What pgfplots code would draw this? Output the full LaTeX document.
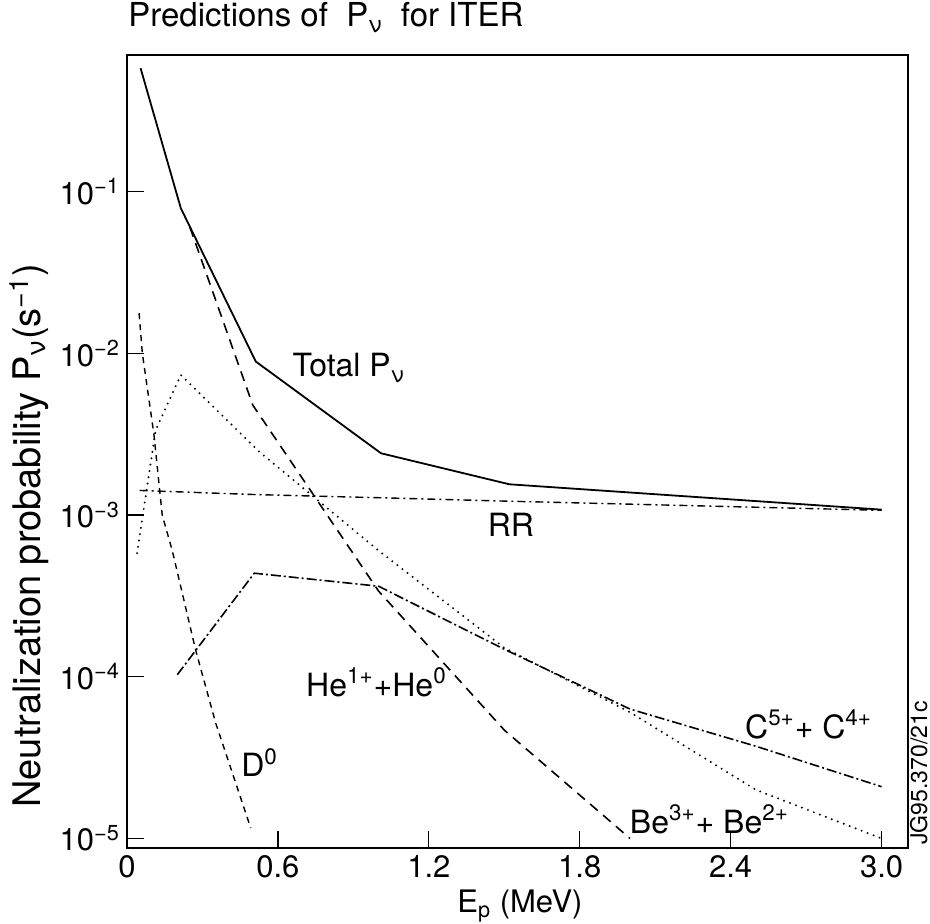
\documentclass[border=0pt]{standalone}
\usepackage{fontspec}
\setmainfont{TeX Gyre Heros}
\usepackage{pgfplots}
\pgfplotsset{compat=1.18}
\begin{document}
\begin{tikzpicture}
\useasboundingbox (-63.5pt,-38pt) rectangle (401.5pt,424pt);
\begin{axis}[
  at={(0pt,0pt)}, anchor=south west,
  scale only axis, width=390.5pt, height=396.5pt,
  xmin=0, xmax=3.105,
  ymode=log, ymin=8.73e-6, ymax=0.70,
  axis line style={line width=0.6pt},
  xtick={0,0.6,1.2,1.8,2.4,3.0},
  xticklabels={0,0.6,1.2,1.8,2.4,3.0},
  ytick={1e-5,1e-4,1e-3,1e-2,1e-1},
  yticklabels={10\textsuperscript{−5},10\textsuperscript{−4},10\textsuperscript{−3},10\textsuperscript{−2},10\textsuperscript{−1}},
  yminorticks=false,
  tick align=inside, xtick pos=bottom, ytick pos=left,
  major tick length=8.5pt,
  tick style={black, line width=0.6pt},
  tick label style={font=\fontsize{15.5}{18}\selectfont},
  clip=false,
]
% Total P_nu
\addplot[black, line width=0.9pt] coordinates {
(0.054,0.58) (0.214,0.079) (0.512,0.0089) (1.01,0.00241) (1.52,0.00155) (3.0,0.00108)};
% RR
\addplot[black, line width=0.7pt, dash pattern=on 4pt off 2pt on 1pt off 2pt] coordinates {
(0.05,1.42e-3) (0.5,1.34e-3) (1.0,1.28e-3) (1.5,1.22e-3) (3.0,1.07e-3)};
% D0
\addplot[black, line width=0.7pt, dash pattern=on 3pt off 2.5pt] coordinates {
(0.048,0.0177) (0.061,0.01) (0.107,3.16e-3) (0.14,1.0e-3) (0.18,6.03e-4) (0.273,1.46e-4) (0.353,5.15e-5) (0.492,1.16e-5)};
% dotted
\addplot[black, line width=1.1pt, line cap=round, dash pattern=on 0pt off 3.2pt] coordinates {
(0.04,5.81e-4) (0.114,3.36e-3) (0.214,7.35e-3) (0.525,2.47e-3) (1.0,6.03e-4) (1.5,1.51e-4) (2.0,6.03e-5) (2.5,2.0e-5) (3.0,1.0e-5)};
% long dashed
\addplot[black, line width=0.8pt, dash pattern=on 5pt off 3.5pt] coordinates {
(0.25,0.0603) (0.5,4.79e-3) (1.0,3.39e-4) (1.5,4.68e-5) (2.0,1.0e-5)};
% C5+ + C4+
\addplot[black, line width=0.8pt, dash pattern=on 5pt off 1.5pt on 1pt off 1.5pt] coordinates {
(0.2,1.03e-4) (0.506,4.37e-4) (1.0,3.63e-4) (1.5,1.48e-4) (2.0,6.31e-5) (2.5,3.72e-5) (3.0,2.09e-5)};
% curve labels
\node[anchor=base west, font=\fontsize{16}{19}\selectfont, inner sep=0pt] at (axis cs:0.657,7.15e-3) {Total P\textsubscript{ν}};
\node[anchor=base west, font=\fontsize{16}{19}\selectfont, inner sep=0pt] at (axis cs:1.433,7.33e-4) {RR};
\node[anchor=base west, font=\fontsize{16}{19}\selectfont, inner sep=0pt] at (axis cs:0.711,7.6e-5) {He\textsuperscript{1+}+He\textsuperscript{0}};
\node[anchor=base west, font=\fontsize{16}{19}\selectfont, inner sep=0pt] at (axis cs:0.453,2.41e-5) {D\textsuperscript{0}};
\node[anchor=base west, font=\fontsize{16}{19}\selectfont, inner sep=0pt] at (axis cs:2.456,4.17e-5) {C\textsuperscript{5+}+ C\textsuperscript{4+}};
\node[anchor=base west, font=\fontsize{16}{19}\selectfont, inner sep=0pt] at (axis cs:1.998,1.08e-5) {Be\textsuperscript{3+}+ Be\textsuperscript{2+}};
\end{axis}
\node[anchor=base west, inner sep=0pt, font=\fontsize{16.5}{19}\selectfont] at (0.5pt,410.5pt) {Predictions of\ \ P\textsubscript{ν}\ \ for ITER};
\node[rotate=90, anchor=center, inner sep=0pt, font=\fontsize{19}{22}\selectfont] at (-49pt,156pt) {Neutralization probability P\textsubscript{ν}(s\textsuperscript{−1})};
\node[anchor=base, inner sep=0pt, font=\fontsize{15.5}{18}\selectfont] at (196.5pt,-32.5pt) {E\textsubscript{p} (MeV)};
\node[rotate=90, anchor=base west, inner sep=0pt, font=\fontsize{11.5}{13}\selectfont] at (400pt,1.5pt) {JG95.370/21c};
\end{tikzpicture}
\end{document}
